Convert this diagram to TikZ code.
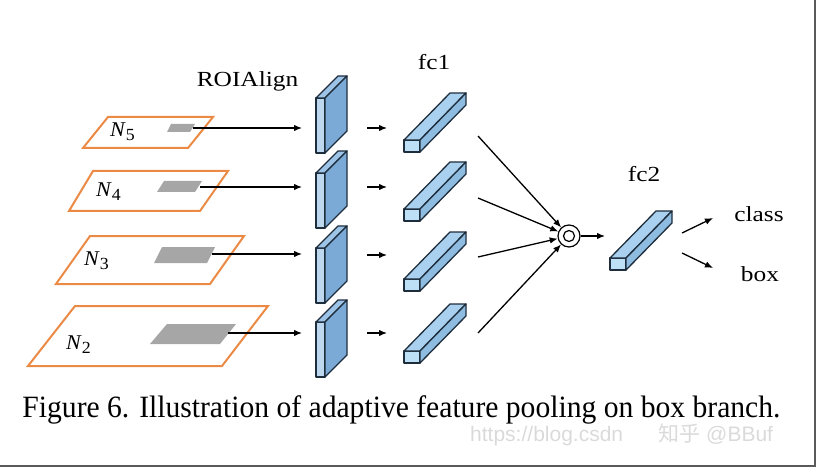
\documentclass[tikz,border=0pt]{standalone}
\usepackage{fontspec}
\setmainfont{Liberation Serif}
\newfontfamily\wmfont{Liberation Sans}
\newfontfamily\cjk{Noto Sans CJK SC}
\usetikzlibrary{arrows.meta}
\definecolor{levelorange}{HTML}{EB8A45}
\definecolor{roigray}{HTML}{A6A6A6}
\definecolor{edgeblue}{HTML}{1E2D3C}
\definecolor{slabfront}{HTML}{BDD7EE}
\definecolor{slabtop}{HTML}{9DC3E6}
\definecolor{slabside}{HTML}{7BAAD6}
\definecolor{fcfrontc}{HTML}{BDE0F7}
\definecolor{fctopc}{HTML}{A9D0EF}
\definecolor{fcsidec}{HTML}{8EBBE0}
\definecolor{wmgray}{HTML}{DADADA}
\definecolor{framegray}{HTML}{5A5A5A}
\newcommand{\roislab}[2]{%
  \filldraw[slabstyle,fill=slabfront] (#1,#2) rectangle ({#1+9},{#2+55});
  \filldraw[slabstyle,fill=slabtop] (#1,#2) -- ({#1+9},#2) -- ({#1+31},{#2-22}) -- ({#1+22},{#2-22}) -- cycle;
  \filldraw[slabstyle,fill=slabside] ({#1+9},#2) -- ({#1+31},{#2-22}) -- ({#1+31},{#2+33}) -- ({#1+9},{#2+55}) -- cycle;
}
\newcommand{\fcbar}[2]{%
  \filldraw[slabstyle,fill=fcfrontc] (#1,#2) rectangle ({#1+16},{#2+12});
  \filldraw[slabstyle,fill=fctopc] (#1,#2) -- ({#1+16},#2) -- ({#1+62},{#2-47}) -- ({#1+46},{#2-47}) -- cycle;
  \filldraw[slabstyle,fill=fcsidec] ({#1+16},#2) -- ({#1+62},{#2-47}) -- ({#1+62},{#2-35}) -- ({#1+16},{#2+12}) -- cycle;
}
\newcommand{\lvl}[1]{\textit{N}\raisebox{-4pt}{\fontsize{17}{17}\selectfont #1}}
\begin{document}
\begin{tikzpicture}[x=1pt,y=-1pt,
  level/.style={draw=levelorange,line width=2pt,line join=miter},
  roi/.style={fill=roigray},
  slabstyle/.style={draw=edgeblue,line width=1.3pt,line join=round},
  arr/.style={-{Latex[length=8pt,width=6.5pt]},line width=1.3pt,black},
  lbl/.style={inner sep=0pt,anchor=base,font=\fontsize{21.5}{21.5}\selectfont,xscale=1.18},
  nlbl/.style={inner sep=0pt,anchor=base west,font=\fontsize{21}{21}\selectfont,xscale=1.05}]
\useasboundingbox (0,0) rectangle (818,470);
% pyramid levels
\draw[level] (83,148) -- (188,148) -- (213,117) -- (108,117) -- cycle;
\draw[level] (69,211) -- (200,211) -- (228,171) -- (93,171) -- cycle;
\draw[level] (56,284) -- (210,284) -- (244,236) -- (90,236) -- cycle;
\draw[level] (28,366) -- (222,366) -- (268,306) -- (75,306) -- cycle;
% ROI regions
\fill[roi] (167,132) -- (190,132) -- (195,124) -- (171,124) -- cycle;
\fill[roi] (157,192) -- (195,192) -- (202,181) -- (164,181) -- cycle;
\fill[roi] (154,263) -- (207,263) -- (215,247) -- (162,247) -- cycle;
\fill[roi] (150,344) -- (220,344) -- (236,324) -- (167,324) -- cycle;
% level labels
\node[nlbl] (n5) at (110,137) {\lvl{5}};
\node[nlbl] (n4) at (96,197) {\lvl{4}};
\node[nlbl] (n3) at (84,265) {\lvl{3}};
\node[nlbl] (n2) at (66,349) {\lvl{2}};
% ROIAlign slabs
\roislab{316}{98}
\roislab{316}{173}
\roislab{316}{248}
\roislab{316}{322}
% fc1 bars
\fcbar{404}{140}
\fcbar{404}{209}
\fcbar{404}{279}
\fcbar{404}{351}
% fc2 bar
\fcbar{610}{258}
% labels
\node[lbl] (roilbl) at (247.5,87) {ROIAlign};
\node[lbl] (fc1lbl) at (434,70) {fc1};
\node[lbl] (fc2lbl) at (644,182) {fc2};
\node[lbl] (classlbl) at (759,222) {class};
\node[lbl] (boxlbl) at (760,281) {box};
% fusion node
\node[circle,draw,line width=1.2pt,minimum size=22pt,inner sep=0pt] (sum) at (569,236) {};
\node[circle,draw,line width=1.2pt,minimum size=11pt,inner sep=0pt] (suminner) at (569,236) {};
% connector end points
\coordinate (g5) at (193,128); \coordinate (r5) at (302,128);
\coordinate (g4) at (200,187); \coordinate (r4) at (302,187);
\coordinate (g3) at (212,254); \coordinate (r3) at (302,254);
\coordinate (g2) at (228,333); \coordinate (r2) at (302,333);
\coordinate (s1) at (367,128); \coordinate (t1) at (387,128);
\coordinate (s2) at (367,187); \coordinate (t2) at (387,187);
\coordinate (s3) at (367,255); \coordinate (t3) at (387,255);
\coordinate (s4) at (367,333); \coordinate (t4) at (387,333);
\coordinate (f1) at (478,136);
\coordinate (f2) at (478,198);
\coordinate (f3) at (478,257);
\coordinate (f4) at (478,333);
\coordinate (fc2in) at (605,236);
\coordinate (o1) at (682,233); \coordinate (oc) at (713,218);
\coordinate (o2) at (682,253); \coordinate (ob) at (713,268);
\draw[arr] (g5) -- (r5);
\draw[arr] (g4) -- (r4);
\draw[arr] (g3) -- (r3);
\draw[arr] (g2) -- (r2);
\draw[arr] (s1) -- (t1);
\draw[arr] (s2) -- (t2);
\draw[arr] (s3) -- (t3);
\draw[arr] (s4) -- (t4);
\draw[arr] (f1) -- (sum);
\draw[arr] (f2) -- (sum);
\draw[arr] (f3) -- (sum);
\draw[arr] (f4) -- (sum);
\draw[arr] (sum) -- (fc2in);
\draw[arr] (o1) -- (oc);
\draw[arr] (o2) -- (ob);
% caption
\node[inner sep=0pt,anchor=base,font=\fontsize{31}{31}\selectfont,xscale=0.955] (caption) at (401.5,417) {Figure 6. Illustration of adaptive feature pooling on box branch.};
% watermark
\node[inner sep=0pt,anchor=base west,text=wmgray,font=\wmfont\fontsize{21}{21}\selectfont] (wm1) at (470,441) {https://blog.csdn};
\node[inner sep=0pt,anchor=base west,text=wmgray,font=\cjk\fontsize{21}{21}\selectfont] (wm2) at (658,441) {知乎};
\node[inner sep=0pt,anchor=base west,text=wmgray,font=\wmfont\fontsize{21}{21}\selectfont] (wm3) at (706,441) {@BBuf};
% frame
\draw[framegray,line width=2pt] (0,466) -- (815,466) -- (815,0);
\end{tikzpicture}
\end{document}
